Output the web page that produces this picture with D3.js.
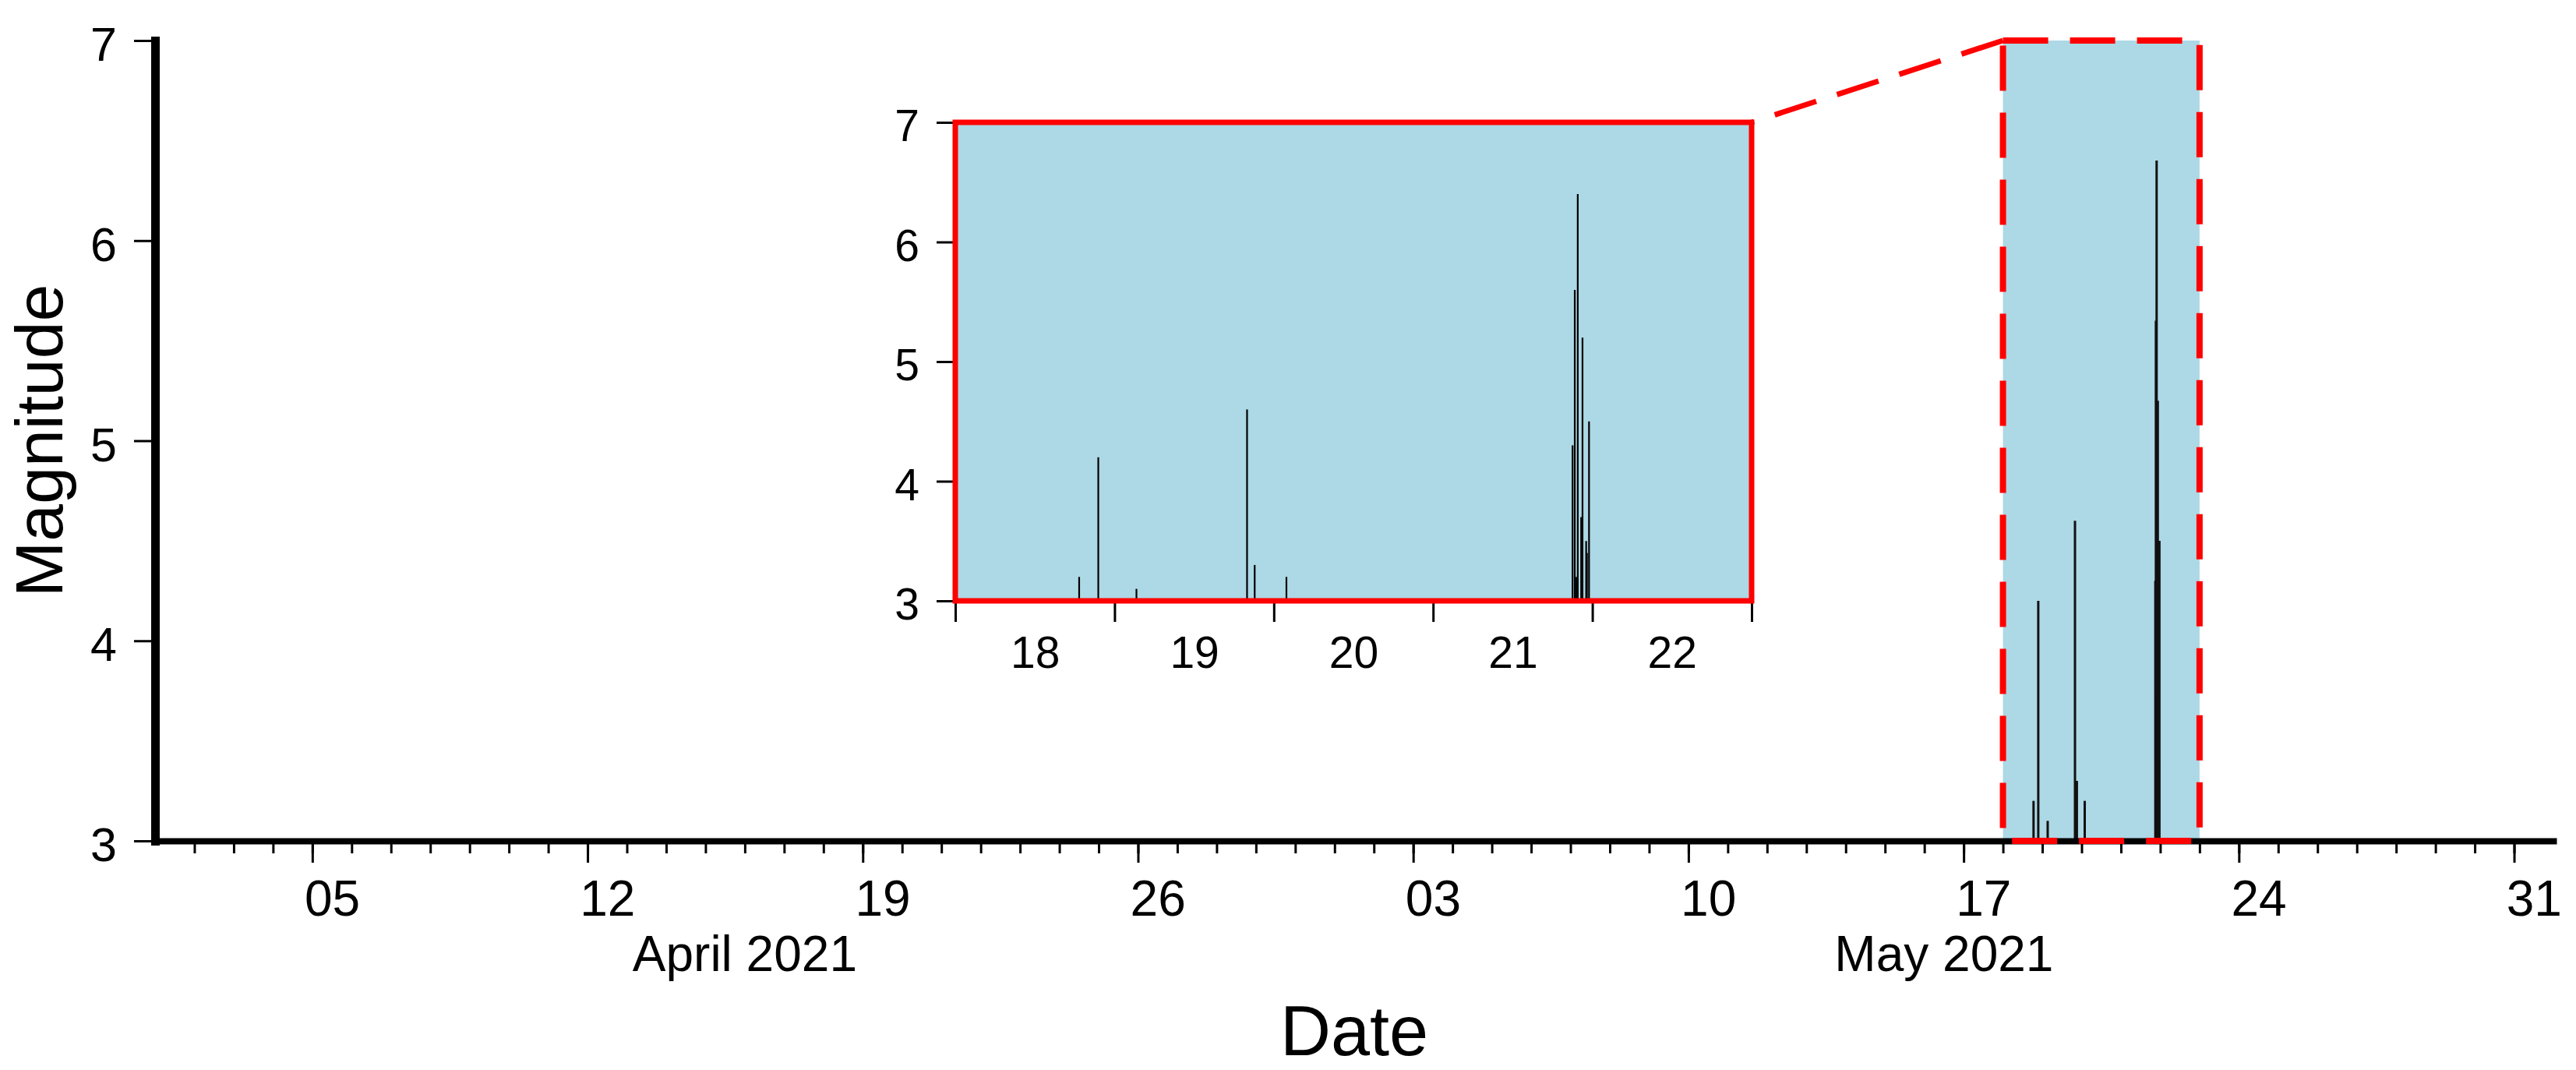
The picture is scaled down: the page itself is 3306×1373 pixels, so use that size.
<!DOCTYPE html>
<html>
<head>
<meta charset="utf-8">
<script src="https://cdn.jsdelivr.net/npm/d3@7"></script>
<style>
	body { margin: 0; background: #fff; }
	svg { display: block; font-family: "Liberation Sans", Arial, sans-serif; }
</style>
</head>
<body>
<script>
const width = 3306,
	height = 1373

// Earthquake list (local time)
const eventTimes = [
	"2021-05-18 18:40", "2021-05-18 21:33", "2021-05-19 03:18",
	"2021-05-19 19:58", "2021-05-19 21:07", "2021-05-20 01:54",
	"2021-05-21 21:01", "2021-05-21 21:21", "2021-05-21 21:36",
	"2021-05-21 21:48", "2021-05-21 22:19", "2021-05-21 22:31",
	"2021-05-21 23:04", "2021-05-21 23:11", "2021-05-21 23:30"
]
const eventMagnitudes = [3.2, 4.2, 3.1, 4.6, 3.3, 3.2, 4.3, 5.6, 3.2, 6.4, 3.7, 5.2, 3.5, 3.4, 4.5]

const magnitudeTicks = [3, 4, 5, 6, 7]
const mainRange = ["2021-04-01 00:00", "2021-06-01 00:00"]
const zoomRange = ["2021-05-18 00:00", "2021-05-23 00:00"]
const monthLabels = ["April 2021", "May 2021"]
const monthStarts = ["2021-04-01 00:00", "2021-05-01 00:00"]

const colors = {
	fill: '#add8e6',
	red: '#ff0000',
	ink: '#000000'
}

const parse = d3.timeParse("%Y-%m-%d %H:%M")
const events = eventTimes.map((t, i) => ({ time: parse(t), mag: eventMagnitudes[i] }))
const zoomDomain = zoomRange.map(parse)

const x = d3.scaleTime().domain(mainRange.map(parse)).range([199, 3277])
const y = d3.scaleLinear().domain([3, 7]).range([1079, 52])

const xi = d3.scaleTime().domain(zoomDomain).range([1226, 2248])
const yi = d3.scaleLinear().domain([3, 7]).range([771, 157])

const svg = d3.select("body")
	.append("svg")
	.attr("width", width)
	.attr("height", height)

// highlighted window on the main chart
svg.append("rect")
	.attr("x", x(zoomDomain[0]))
	.attr("y", y(7))
	.attr("width", x(zoomDomain[1]) - x(zoomDomain[0]))
	.attr("height", y(3) - y(7))
	.attr("fill", colors.fill)

svg.append("g")
	.selectAll("line")
	.data(events)
	.join("line")
	.attr("x1", d => x(d.time))
	.attr("x2", d => x(d.time))
	.attr("y1", y(3))
	.attr("y2", d => y(d.mag))
	.attr("stroke", "#111")
	.attr("stroke-width", 3)

// main x axis: daily minor ticks + weekly labelled ticks
const days = d3.timeDay.range(d3.timeDay.offset(x.domain()[0], 1), x.domain()[1])
const mondays = d3.timeMonday.range(x.domain()[0], x.domain()[1])
const halfDay = x(d3.timeHour.offset(mondays[0], 12)) - x(mondays[0])

const minorAxis = svg.append("g")
	.attr("transform", `translate(0,${y(3)})`)
	.call(d3.axisBottom(x).tickValues(days).tickSize(16).tickSizeOuter(0).tickFormat(""))
minorAxis.select(".domain").remove()
minorAxis.selectAll(".tick line").attr("stroke-width", 3)

const xAxis = svg.append("g")
	.attr("transform", `translate(0,${y(3)})`)
	.call(d3.axisBottom(x).tickValues(mondays).tickSize(28).tickSizeOuter(0).tickFormat(d3.timeFormat("%d")))
xAxis.select(".domain").attr("stroke-width", 8).attr("stroke-linecap", "square")
xAxis.selectAll(".tick line").attr("stroke-width", 3)
xAxis.selectAll(".tick text")
	.attr("x", halfDay)
	.attr("y", 96)
	.attr("dy", null)
	.attr("font-size", 64)
	.attr("font-family", "Liberation Sans, Arial, sans-serif")
	.attr("fill", colors.ink)

svg.append("g")
	.selectAll("text")
	.data(monthStarts.map(parse))
	.join("text")
	.attr("x", d => x(new Date((+d + +d3.timeMonth.offset(d, 1)) / 2)))
	.attr("y", 1246)
	.attr("text-anchor", "middle")
	.attr("font-size", 64)
	.text((_, i) => monthLabels[i])

const yAxis = svg.append("g")
	.attr("transform", `translate(${x.range()[0]},0)`)
	.call(d3.axisLeft(y).tickValues(magnitudeTicks).tickSize(27).tickSizeOuter(0).tickFormat(d3.format("d")))
yAxis.select(".domain").attr("stroke-width", 11).attr("stroke-linecap", "square")
yAxis.selectAll(".tick line").attr("stroke-width", 3)
yAxis.selectAll(".tick text")
	.attr("x", -49)
	.attr("dy", "0.42em")
	.attr("font-size", 61)
	.attr("font-family", "Liberation Sans, Arial, sans-serif")
	.attr("fill", colors.ink)

svg.append("text")
	.attr("transform", `translate(80,${(y(3) + y(7)) / 2}) rotate(-90)`)
	.attr("text-anchor", "middle")
	.attr("font-size", 86)
	.text("Magnitude")

svg.append("text")
	.attr("x", (x.range()[0] + x.range()[1]) / 2)
	.attr("y", 1354)
	.attr("text-anchor", "middle")
	.attr("font-size", 90)
	.text("Date")

// dashed outline of the window + connector to the inset
svg.append("rect")
	.attr("x", x(zoomDomain[0]))
	.attr("y", y(7))
	.attr("width", x(zoomDomain[1]) - x(zoomDomain[0]))
	.attr("height", y(3) - y(7))
	.attr("fill", "none")
	.attr("stroke", colors.red)
	.attr("stroke-width", 8)
	.attr("stroke-dasharray", "58 28")

svg.append("line")
	.attr("x1", x(zoomDomain[0]))
	.attr("y1", y(7))
	.attr("x2", xi.range()[1])
	.attr("y2", yi(7))
	.attr("stroke", colors.red)
	.attr("stroke-width", 7)
	.attr("stroke-dasharray", "56 28")

// ---- inset ----
const inset = svg.append("g")

inset.append("rect")
	.attr("x", xi.range()[0])
	.attr("y", yi(7))
	.attr("width", xi.range()[1] - xi.range()[0])
	.attr("height", yi(3) - yi(7))
	.attr("fill", colors.fill)

inset.append("g")
	.selectAll("line")
	.data(events)
	.join("line")
	.attr("x1", d => xi(d.time))
	.attr("x2", d => xi(d.time))
	.attr("y1", yi(3))
	.attr("y2", d => yi(d.mag))
	.attr("stroke", "#000")
	.attr("stroke-width", 2.2)

const insetDays = d3.timeDay.range(zoomDomain[0], d3.timeDay.offset(zoomDomain[1], 1))
const insetHalfDay = xi(d3.timeHour.offset(zoomDomain[0], 12)) - xi(zoomDomain[0])

const xiAxis = inset.append("g")
	.attr("transform", `translate(0,${yi(3)})`)
	.call(d3.axisBottom(xi).tickValues(insetDays).tickSize(27).tickSizeOuter(0)
		.tickFormat(d => d < zoomDomain[1] ? d3.timeFormat("%d")(d) : ""))
xiAxis.select(".domain").attr("stroke-width", 3)
xiAxis.selectAll(".tick line").attr("stroke-width", 3)
xiAxis.selectAll(".tick text")
	.attr("x", insetHalfDay)
	.attr("y", 86)
	.attr("dy", null)
	.attr("font-size", 57)
	.attr("font-family", "Liberation Sans, Arial, sans-serif")
	.attr("fill", colors.ink)

const yiAxis = inset.append("g")
	.attr("transform", `translate(${xi.range()[0]},0)`)
	.call(d3.axisLeft(yi).tickValues(magnitudeTicks).tickSize(24).tickSizeOuter(0).tickFormat(d3.format("d")))
yiAxis.select(".domain").attr("stroke-width", 3)
yiAxis.selectAll(".tick line").attr("stroke-width", 3)
yiAxis.selectAll(".tick text")
	.attr("x", -46)
	.attr("dy", "0.42em")
	.attr("font-size", 57)
	.attr("font-family", "Liberation Sans, Arial, sans-serif")
	.attr("fill", colors.ink)

inset.append("rect")
	.attr("x", xi.range()[0])
	.attr("y", yi(7))
	.attr("width", xi.range()[1] - xi.range()[0])
	.attr("height", yi(3) - yi(7))
	.attr("fill", "none")
	.attr("stroke", colors.red)
	.attr("stroke-width", 7)
</script>
</body>
</html>
